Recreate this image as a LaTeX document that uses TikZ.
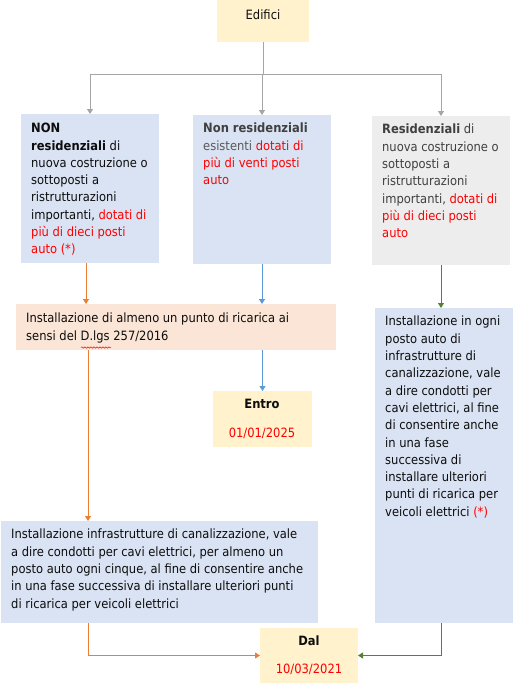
\documentclass[tikz,border=0pt]{standalone}
\usepackage{fontspec}
\setmainfont{DejaVu Sans Condensed}
\usetikzlibrary{arrows.meta,decorations.pathmorphing}
\definecolor{bluebox}{HTML}{DAE3F3}
\definecolor{graybox}{HTML}{EDEDED}
\definecolor{orangebox}{HTML}{FBE5D6}
\definecolor{yellowbox}{HTML}{FFF2CC}
\definecolor{redtxt}{HTML}{FF0000}
\definecolor{darktxt}{HTML}{404040}
\definecolor{graytxt}{HTML}{595959}
\definecolor{blacktxt}{HTML}{0D0D0D}
\definecolor{garrow}{HTML}{A5A5A5}
\definecolor{oarrow}{HTML}{ED7D31}
\definecolor{barrow}{HTML}{5B9BD5}
\definecolor{grarrow}{HTML}{548235}
\newcommand{\rt}[1]{\textcolor{redtxt}{#1}}
\begin{document}
\begin{tikzpicture}[x=1pt,y=-1pt,
  box/.style={anchor=north west, inner sep=0pt, outer sep=0pt, draw=none},
  txt/.style={anchor=north west, inner sep=0pt, align=left, text=blacktxt,
    font=\fontsize{12.8}{17.3}\selectfont},
  ctxt/.style={anchor=base, inner sep=0pt, text=blacktxt, font=\fontsize{12.8}{14}\selectfont},
  conn/.style={line width=0.8pt, -{Triangle[length=5pt,width=6pt]}},
  plain/.style={line width=0.8pt}]
\useasboundingbox[fill=white] (0,0) rectangle (513,683);

% boxes
\node[box, fill=yellowbox, minimum width=92, minimum height=42] (edifici) at (217,0) {};
\node[box, fill=bluebox, minimum width=138, minimum height=149] (box1) at (21,114) {};
\node[box, fill=bluebox, minimum width=138, minimum height=149] (box2) at (193,115) {};
\node[box, fill=graybox, minimum width=138, minimum height=149] (box3) at (372,116) {};
\node[box, fill=orangebox, minimum width=320, minimum height=46] (box4) at (16,304) {};
\node[box, fill=yellowbox, minimum width=99, minimum height=56] (entro) at (213,391) {};
\node[box, fill=bluebox, minimum width=138, minimum height=315] (boxR) at (375,308) {};
\node[box, fill=bluebox, minimum width=317, minimum height=102] (box5) at (1,521) {};
\node[box, fill=yellowbox, minimum width=98, minimum height=55] (dal) at (260,628) {};

% texts
\node[ctxt] (tEdifici) at (263,19) {Edifici};
\node[txt] (t1) at (31,123) {\textbf{NON}\\\textbf{residenziali} di\\nuova costruzione o\\sottoposti a\\ristrutturazioni\\importanti, \rt{dotati di}\\\rt{più di dieci posti}\\\rt{auto (*)}};
\node[txt, text=graytxt] (t2) at (203,123) {\textcolor{darktxt}{\textbf{Non residenziali}}\\esistenti \rt{dotati di}\\\rt{più di venti posti}\\\rt{auto}};
\node[txt, text=darktxt] (t3) at (382,124) {\textbf{Residenziali} di\\nuova costruzione o\\sottoposti a\\ristrutturazioni\\importanti, \rt{dotati di}\\\rt{più di dieci posti}\\\rt{auto}};
\node[txt] (t4) at (26,313) {Installazione di almeno un punto di ricarica ai\\sensi del D.lgs 257/2016};
\node[ctxt, font=\fontsize{12.8}{14}\selectfont\bfseries] (tEntro) at (262,408) {Entro};
\node[ctxt, text=redtxt] (tEntroD) at (262,437) {01/01/2025};
\node[txt] (tR) at (385,316) {Installazione in ogni\\posto auto di\\infrastrutture di\\canalizzazione, vale\\a dire condotti per\\cavi elettrici, al fine\\di consentire anche\\in una fase\\successiva di\\installare ulteriori\\punti di ricarica per\\veicoli elettrici \rt{(*)}};
\node[txt] (t5) at (11,529) {Installazione infrastrutture di canalizzazione, vale\\a dire condotti per cavi elettrici, per almeno un\\posto auto ogni cinque, al fine di consentire anche\\in una fase successiva di installare ulteriori punti\\di ricarica per veicoli elettrici};
\node[ctxt, font=\fontsize{12.8}{14}\selectfont\bfseries] (tDal) at (309,645) {Dal};
\node[ctxt, text=redtxt] (tDalD) at (309,673) {10/03/2021};

% spell-check underline
\draw[redtxt, line width=0.5pt, decorate, decoration={snake, segment length=3pt, amplitude=0.7pt}] (81,347.5) -- (111,347.5);

% connectors
\coordinate (ox1) at (86,0);
\coordinate (ox2) at (88,0);
\coordinate (split) at (0,74);
\draw[plain, garrow] (edifici.south) -- (edifici.south |- split);
\draw[conn, garrow] (box1.north |- split) -- (box1.north);
\draw[conn, garrow] (box2.north |- split) -- (box2.north);
\draw[conn, garrow] (box3.north |- split) -- (box3.north);
\draw[plain, garrow] (box1.north |- split) -- (box3.north |- split);
\draw[conn, oarrow] (box1.south -| ox1) -- (box4.north -| ox1);
\draw[conn, barrow] (box2.south) -- (box2.south |- box4.north);
\draw[conn, barrow] (box4.south -| entro.north) -- (entro.north);
\draw[conn, grarrow] (box3.south) -- (box3.south |- boxR.north);
\draw[conn, oarrow] (box4.south -| ox2) -- (box5.north -| ox2);
\draw[conn, oarrow] (box5.south -| ox2) |- (dal.west);
\draw[conn, grarrow] (boxR.south -| box3.south) |- (dal.east);
\end{tikzpicture}
\end{document}
